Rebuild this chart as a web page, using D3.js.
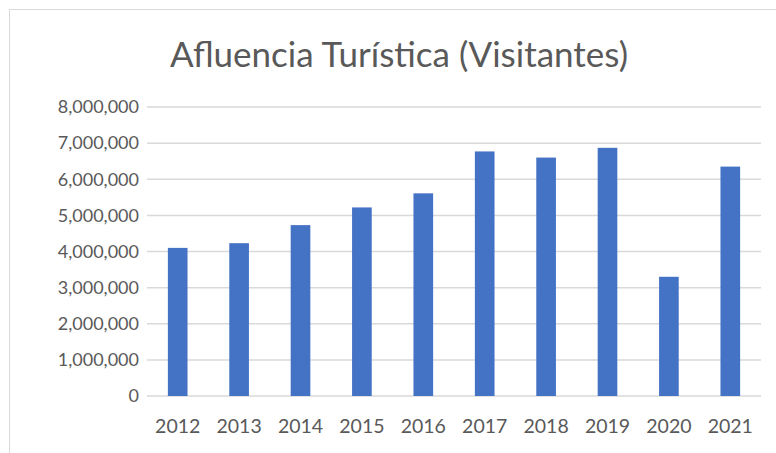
<!DOCTYPE html>
<html>
<head>
<meta charset="utf-8">
<script src="https://cdn.jsdelivr.net/npm/d3@7"></script>
<style>
  body { margin: 0; background: #fff; }
  text { font-family: Lato, "Open Sans", sans-serif; fill: #595959; }
</style>
</head>
<body>
<div id="chart"></div>
<script>
var years = ["2012", "2013", "2014", "2015", "2016", "2017", "2018", "2019", "2020", "2021"];
var visitors = [4100000, 4230000, 4730000, 5220000, 5610000, 6770000, 6600000, 6870000, 3300000, 6350000];
var yTicks = [0, 1000000, 2000000, 3000000, 4000000, 5000000, 6000000, 7000000, 8000000];
var title = "Afluencia Turística (Visitantes)";

var svgWidth = 776;
var svgHeight = 453;
var margin = { top: 107, right: 15, bottom: 57, left: 147 };
var width = svgWidth - margin.left - margin.right;
var height = svgHeight - margin.top - margin.bottom;

var svg = d3.select("#chart")
    .append("svg")
    .attr("width", svgWidth)
    .attr("height", svgHeight);

// chart border
svg.append("rect")
    .attr("x", 9.5)
    .attr("y", 9.5)
    .attr("width", svgWidth)
    .attr("height", svgHeight)
    .attr("fill", "none")
    .attr("stroke", "#d9d9d9");

svg.append("text")
    .attr("x", 399)
    .attr("y", 67)
    .attr("text-anchor", "middle")
    .style("font-size", "35px")
    .text(title);

var g = svg.append("g")
    .attr("transform", "translate(" + margin.left + "," + margin.top + ")");

var x = d3.scaleBand()
    .domain(years)
    .range([0, width])
    .paddingInner(0.68)
    .paddingOuter(0.34);

var y = d3.scaleLinear()
    .domain([0, 8000000])
    .range([height, 0]);

// gridlines
g.append("g")
    .selectAll("line")
    .data(yTicks)
    .enter().append("line")
    .attr("x1", 0)
    .attr("x2", width)
    .attr("y1", function(d) { return y(d); })
    .attr("y2", function(d) { return y(d); })
    .attr("stroke", "#d9d9d9")
    .attr("stroke-width", 1.5);

// y axis labels
var yAxis = g.append("g")
    .call(d3.axisLeft(y).tickValues(yTicks).tickSize(0).tickPadding(8).tickFormat(d3.format(",")));
yAxis.select(".domain").remove();
yAxis.selectAll("text").style("font-size", "18px").attr("fill", "#595959");

// x axis labels
var xAxis = g.append("g")
    .attr("transform", "translate(0," + height + ")")
    .call(d3.axisBottom(x).tickSize(0).tickPadding(23));
xAxis.select(".domain").remove();
xAxis.selectAll("text").style("font-size", "19.5px").attr("fill", "#595959");

// bars
g.selectAll(".bar")
    .data(visitors)
    .enter().append("rect")
    .attr("class", "bar")
    .attr("x", function(d, i) { return x(years[i]); })
    .attr("width", x.bandwidth())
    .attr("y", function(d) { return y(d); })
    .attr("height", function(d) { return height - y(d); })
    .style("fill", "#4472c4");
</script>
</body>
</html>
